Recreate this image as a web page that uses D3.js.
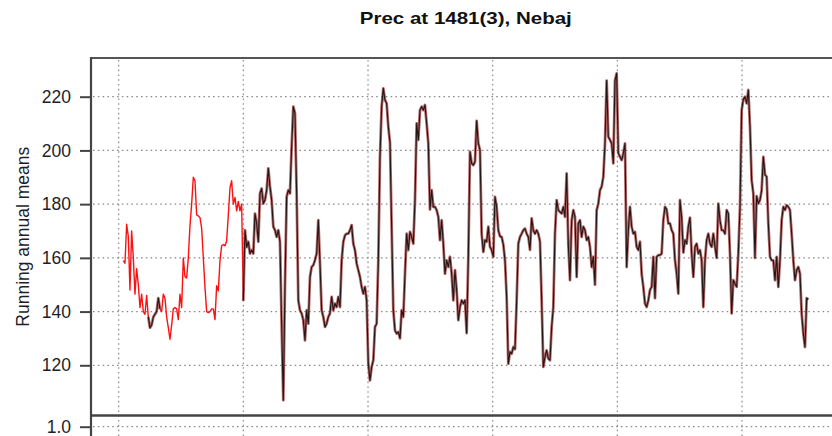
<!DOCTYPE html>
<html>
<head>
<meta charset="utf-8">
<script src="https://cdn.jsdelivr.net/npm/d3@7"></script>
<style>
  html, body { margin: 0; padding: 0; background: #fff; }
  svg { display: block; }
  text { font-family: "Liberation Sans", Arial, sans-serif; }
</style>
</head>
<body>
<svg id="chart" width="832" height="436"></svg>
<script>
// ---- data ----
const chartTitle = "Prec at 1481(3), Nebaj";
const yAxisTitle = "Running annual means";
const yTicks = [120, 140, 160, 180, 200, 220];
const xGridYears = [1960, 1970, 1980, 1990, 2000, 2010, 2020];
const lowerPanelTicks = [1.0];
const startYear = 1960.37;   // first sample
const stepYears = 0.1337;    // sampling interval
// running annual mean precipitation (full, gap-filled series)
const values = [
  159, 158, 172.5, 168, 148, 170, 160, 146.5, 156, 150,
  141.5, 146.5, 140, 139, 146, 138, 134, 135, 138, 139,
  140, 145, 141, 140, 146.5, 145, 138, 134, 129.7, 135,
  141, 141.5, 141, 137, 146.5, 141.5, 160, 153, 152.5, 160,
  172, 180, 190, 188.7, 176, 175.6, 175, 171, 160, 149,
  140, 139.6, 140, 141, 141, 137, 149.6, 147.7, 159, 164.5,
  165, 164.5, 166.3, 176, 186, 188.7, 180, 182.5, 177.5, 181,
  177.5, 180, 144,
  170.3, 164, 166, 161.6, 162.9, 161.6, 176.5, 172.8, 166, 184,
  185.8, 180.2, 181.5, 185.2, 193.3, 186.5, 181.5, 171.6, 170.3, 167.8,
  170.3, 166, 135, 107, 150, 182.7, 185.2, 184, 201.4, 216.3,
  213.8, 184, 144.2, 140.5, 139.3, 136.8, 129.3, 140.5, 135.5, 152.9,
  156.6, 157.3, 159.1, 161.6, 174, 158, 140.5, 138, 134.3, 135.5,
  138, 139.3, 145.5, 140.5, 143, 141.7, 145.5, 141.7, 159.1, 166,
  168.4, 169, 169, 170.3, 172.2, 165.3, 162.9, 157.9, 155.4, 152.9,
  149.2, 146.7, 149.2, 144.2, 120.6,
  114.4, 119.4, 121.9, 134.3, 135.5, 159.1, 197.6, 216.3, 223.1, 218.8,
  217.5, 208.8, 203, 171.6, 140.5, 133, 131.8, 132.4, 130, 140.5,
  138, 154.1, 169, 162.9, 169.7, 167.8, 165.3, 181.5, 210.1, 203.9,
  215, 216.3, 215, 216.9, 210.1, 202.6, 178, 185.2, 179, 179,
  177.8, 175.3, 166.6, 174, 165.3, 154.1, 159.1, 156.6, 160.4, 154.1,
  144.2, 155.4, 148, 136.8, 141.7, 144.2, 143, 144.2, 132, 160.4,
  199.5, 195.2, 194.5, 195.8, 211, 202.6, 200.1, 169, 162.2, 166.6,
  166, 171.6, 164.1, 162.9, 160.4, 182.7, 179, 170.3, 168, 167.8,
  165, 159.1, 145.5, 120.6, 125, 124.3, 126.8, 126, 144, 165.3,
  167.8, 169, 170.3, 170.9, 169, 167.8, 163, 174.7, 170.3, 169,
  170.3, 169, 166, 144.2, 119.4, 123.1, 125.6, 122.5, 121.9, 134.3,
  141.7, 169, 181.5, 177.8, 177.1, 176.5, 179, 175.3, 191.4, 165,
  151.7, 174, 177.8, 175.3, 152.9, 172.8, 174, 167.8, 171.6, 170.3,
  166.6, 167.8, 164.1, 156.6, 160.4, 150, 177.8, 180.2, 185.2, 186.5,
  190.2, 202.6, 226, 205.1, 203.9, 202.6, 195.2, 226, 228.7, 199,
  197.6, 196.4, 198.9, 202.6, 156.6, 170.3,
  179, 171.6, 169, 169.7, 164.1, 162.9, 166, 154.1, 149.2, 143,
  141.7, 144.2, 148, 149.2, 160.4, 145, 160.4, 161, 161, 161.6,
  174, 179, 178, 172.8, 172.8, 170.3, 169, 159.1, 154.1, 146.7,
  181.5, 175, 162, 166.6, 165.3, 171.6, 175, 161.6, 152.9, 164.1,
  165.3, 161.6, 162.9, 159.1, 141.7, 159.1, 166.6, 169, 165.3, 164.1,
  169, 164.1, 160, 180.2, 174, 170.3, 170.3, 169, 177.8, 176.5,
  161.6, 139.3, 151.7, 150.4, 149.2, 161.6, 179, 215, 219, 220,
  217.5, 222.5, 208.8, 188.9, 184, 160, 183, 180.2, 181.5, 185.2,
  197.6, 191, 190.2, 172.8, 160.4, 159.1, 159.1, 151.7, 160.4, 149.2,
  159.1, 174, 179, 177.8, 179.6, 179, 177.8, 169, 159.1, 151.7,
  155.4, 156.6, 154.1, 139.3, 131.8, 126.8, 145, 144.5
];
// periods where the station series was observed (drawn in black)
const observedRanges = [[1962.37, 1963.32], [1969.99, 2020]];

// ---- layout ----
const W = 832, H = 436;
const panel = { left: 91, top: 58, right: 900, bottom: 415 };

const svg = d3.select("#chart");

const data = values.map((v, i) => ({ year: startYear + i * stepYears, value: v }));
const isObs = yr => observedRanges.some(r => yr >= r[0] - 1e-6 && yr <= r[1] + 1e-6);
data.forEach(d => d.obs = isObs(d.year));

const x = d3.scaleLinear().domain([1960, 2010]).range([118.7, 742]);
const y = d3.scaleLinear().domain([120, 220]).range([365.3, 96.7]);

// clip
svg.append("defs").append("clipPath").attr("id", "clip")
  .append("rect").attr("x", panel.left).attr("y", panel.top)
  .attr("width", panel.right - panel.left).attr("height", panel.bottom - panel.top);

// grid (vertical through both panels)
const grid = svg.append("g").attr("stroke", "#8c8c8c").attr("stroke-width", 1.2)
  .attr("stroke-dasharray", "1.6 3.2");
grid.selectAll("line.v").data(xGridYears).join("line").attr("class", "v")
  .attr("x1", d => x(d)).attr("x2", d => x(d))
  .attr("y1", panel.top + 2).attr("y2", H);
grid.selectAll("line.h").data(yTicks).join("line").attr("class", "h")
  .attr("x1", panel.left + 2).attr("x2", W)
  .attr("y1", d => y(d)).attr("y2", d => y(d));

// lower panel gridline
const yLow = d3.scaleLinear().domain([0, 1]).range([475, 426.7]);
grid.selectAll("line.l").data(lowerPanelTicks).join("line").attr("class", "l")
  .attr("x1", panel.left + 2).attr("x2", W)
  .attr("y1", d => yLow(d)).attr("y2", d => yLow(d));

// lines
const lineGen = d3.line().x(d => x(d.year)).y(d => y(d.value));
const plot = svg.append("g").attr("clip-path", "url(#clip)");

// red (gap-filled) where not observed; include neighbours for continuity
const redDefined = (d, i) => !d.obs || (i > 0 && !data[i - 1].obs) || (i < data.length - 1 && !data[i + 1].obs);
plot.append("path").datum(data)
  .attr("d", lineGen.defined(redDefined)(data))
  .attr("fill", "none").attr("stroke", "#ff1010").attr("stroke-width", 1.4)
  .attr("stroke-linejoin", "round");

// observed: reddish halo underneath, black core on top
const obsGen = d3.line().x(d => x(d.year)).y(d => y(d.value)).defined(d => d.obs);
plot.append("path")
  .attr("d", obsGen(data))
  .attr("fill", "none").attr("stroke", "#a85050").attr("stroke-width", 2.8)
  .attr("stroke-opacity", 0.85)
  .attr("stroke-linejoin", "round");
plot.append("path")
  .attr("d", obsGen(data))
  .attr("fill", "none").attr("stroke", "#000").attr("stroke-width", 1.1)
  .attr("stroke-opacity", 0.8)
  .attr("stroke-linejoin", "round");

// frame
svg.append("line").attr("x1", panel.left).attr("x2", W)
  .attr("y1", panel.top).attr("y2", panel.top)
  .attr("stroke", "#555").attr("stroke-width", 1.8);
svg.append("line").attr("x1", panel.left).attr("x2", panel.left)
  .attr("y1", panel.top - 0.9).attr("y2", H)
  .attr("stroke", "#444").attr("stroke-width", 2.2);
svg.append("line").attr("x1", panel.left).attr("x2", W)
  .attr("y1", panel.bottom + 0.5).attr("y2", panel.bottom + 0.5)
  .attr("stroke", "#444").attr("stroke-width", 2.6);

// y axis ticks & labels
const yAxis = d3.axisLeft(y).tickValues(yTicks).tickSize(10).tickPadding(9);
const gy = svg.append("g").attr("transform", `translate(${panel.left - 1},0)`).call(yAxis);
gy.select(".domain").remove();
gy.selectAll(".tick line").attr("stroke", "#444").attr("stroke-width", 2);
gy.selectAll(".tick text").attr("font-size", 17.5).attr("fill", "#1e1e28")
  .attr("font-family", "Liberation Sans, Arial, sans-serif");

const yAxisLow = d3.axisLeft(yLow).tickValues(lowerPanelTicks).tickSize(10).tickPadding(9)
  .tickFormat(d3.format(".1f"));
const gyl = svg.append("g").attr("transform", `translate(${panel.left - 1},0)`).call(yAxisLow);
gyl.select(".domain").remove();
gyl.selectAll(".tick line").attr("stroke", "#444").attr("stroke-width", 2);
gyl.selectAll(".tick text").attr("font-size", 17.5).attr("fill", "#1e1e28")
  .attr("font-family", "Liberation Sans, Arial, sans-serif");

// titles
svg.append("text").attr("x", 465.8).attr("y", 23.5)
  .attr("text-anchor", "middle").attr("font-weight", "bold").attr("font-size", 16.5)
  .attr("textLength", 212).attr("lengthAdjust", "spacingAndGlyphs")
  .attr("fill", "#111").text(chartTitle);

svg.append("text").attr("transform", "translate(28.5,236.7) rotate(-90)")
  .attr("text-anchor", "middle").attr("font-size", 17.5).attr("fill", "#1e1e28")
  .text(yAxisTitle);
</script>
</body>
</html>
